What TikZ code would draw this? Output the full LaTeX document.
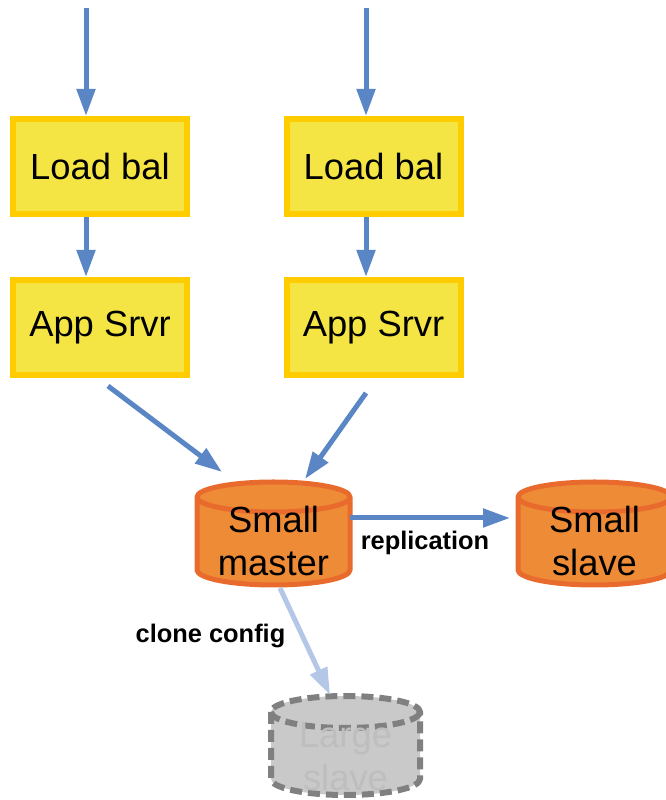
\documentclass[tikz,border=0pt]{standalone}
\usepackage{fontspec}
\setmainfont{Liberation Sans}
\usetikzlibrary{arrows.meta,calc,backgrounds}

\definecolor{boxfill}{RGB}{244,229,68}
\definecolor{boxline}{RGB}{255,204,0}
\definecolor{dbfill}{RGB}{237,139,55}
\definecolor{dbline}{RGB}{232,106,44}
\definecolor{flow}{RGB}{91,134,197}
\definecolor{flowlight}{RGB}{180,199,231}
\definecolor{ghostfill}{RGB}{201,201,201}
\definecolor{ghostline}{RGB}{128,128,128}
\definecolor{ghosttext}{RGB}{190,190,190}

% cylinder outline drawn around a named (invisible) node
% #1 style, #2 node name, #3 x radius, #4 y radius of the ellipses
\newcommand{\dbcylinder}[4]{%
  \path[#1] ($(#2.north west)+(0,-#4)$) -- ($(#2.south west)+(0,#4)$)
    arc[start angle=180,end angle=360,x radius=#3,y radius=#4]
    -- ($(#2.north east)+(0,-#4)$)
    arc[start angle=0,end angle=180,x radius=#3,y radius=#4] -- cycle;
  \path[#1,fill=none] ($(#2.north west)+(0,-#4)$)
    arc[start angle=180,end angle=360,x radius=#3,y radius=#4];
}

\tikzset{
  srvbox/.style={draw=boxline,fill=boxfill,line width=6bp,minimum width=174bp,
    minimum height=95bp,inner sep=0pt,font=\fontsize{36.5}{43}\selectfont},
  dbslot/.style={minimum width=153bp,minimum height=103bp,inner sep=0pt,outer sep=0pt},
  ghostslot/.style={minimum width=149bp,minimum height=99bp,inner sep=0pt,outer sep=0pt},
  dbbody/.style={draw=dbline,fill=dbfill,line width=5bp,line join=round},
  ghostbody/.style={draw=ghostline,fill=ghostfill,line width=6bp,dash pattern=on 12bp off 6bp},
  dbtext/.style={align=center,font=\fontsize{36.5}{43}\selectfont,inner sep=0pt},
  flowarrow/.style={draw=flow,line width=5bp,-{Triangle[length=27bp,width=18bp]}},
  clonearrow/.style={draw=flowlight,line width=5bp,-{Triangle[length=27bp,width=18bp]}},
  edgelabel/.style={font=\fontsize{25.5}{30}\selectfont\bfseries,inner sep=0pt,anchor=base},
}

\begin{document}
\begin{tikzpicture}[x=1bp,y=1bp]
\useasboundingbox (0,0) rectangle (666,800);

% front-end tier
\node[srvbox] (lb1) at (100,633.5) {Load bal};
\node[srvbox] (lb2) at (373.5,633.5) {Load bal};
\node[srvbox] (as1) at (100,472.5) {App Srvr};
\node[srvbox] (as2) at (373.5,472.5) {App Srvr};

% database tier
\node[dbslot] (m) at (273.5,266.5) {};
\node[dbslot] (s) at (594.5,266.5) {};
\node[ghostslot] (g) at (345.5,54.5) {};

\begin{scope}[on background layer]
  \dbcylinder{dbbody}{m}{76.5}{15}
  \dbcylinder{dbbody}{s}{76.5}{15}
  \dbcylinder{ghostbody}{g}{74.5}{16}
\end{scope}

\node[dbtext] (mt) at (273.5,259) {Small\\master};
\node[dbtext] (st) at (594.5,259) {Small\\slave};
\node[dbtext,text=ghosttext] (gt) at (345.5,43.5) {Large\\slave};

% incoming traffic
\coordinate (in1) at (86,792);
\coordinate (in2) at (366,792);
\draw[flowarrow] (in1) -- (in1 |- lb1.north);
\draw[flowarrow] (in2) -- (in2 |- lb2.north);
\draw[flowarrow] (in1 |- lb1.south) -- (in1 |- as1.north);
\draw[flowarrow] (in2 |- lb2.south) -- (in2 |- as2.north);

% app servers to master
\draw[flowarrow] ($(as1.south)+(8,-8)$) -- ($(m.north)+(-51.5,10)$);
\draw[flowarrow] ($(as2.south)+(-7.5,-15)$) -- ($(m.north)+(31.5,3)$);

% replication and cloning
\draw[flowarrow] (m.east |- 0,282) -- ($(s.west |- 0,282)+(-8,0)$);
\draw[clonearrow] ($(m.south)+(6.5,-3)$) -- ($(g.north)+(-15.5,1)$);

\node[edgelabel] (rl) at (425,250) {replication};
\node[edgelabel] (cl) at (210.5,157.5) {clone config};
\end{tikzpicture}
\end{document}
